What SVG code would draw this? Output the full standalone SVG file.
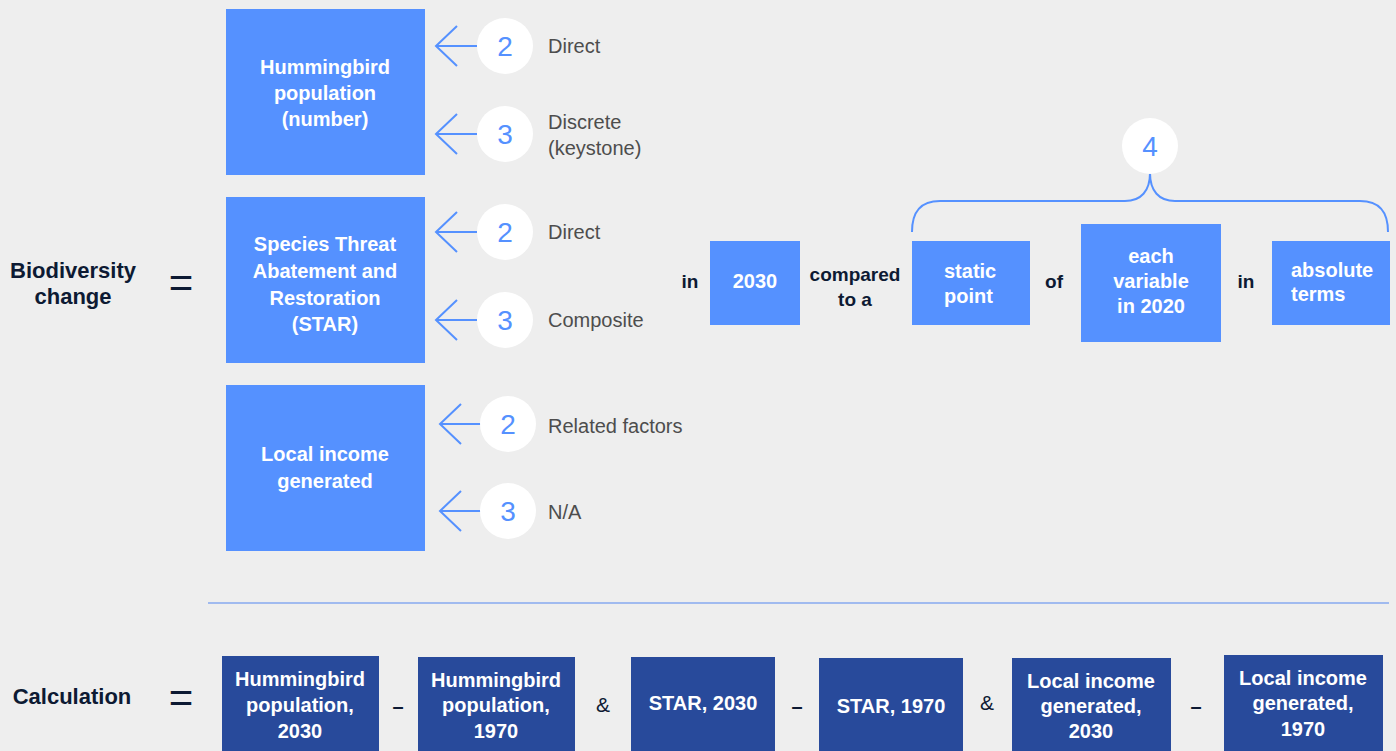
<svg xmlns="http://www.w3.org/2000/svg" width="1396" height="751" viewBox="0 0 1396 751">
<style>
.bg{fill:#eeeeee}
.lb{fill:#5591ff}
.db{fill:#284a9b}
.wt{font-family:"Liberation Sans",Arial,sans-serif;font-size:20px;font-weight:bold;fill:#ffffff;text-anchor:middle}
.wl{font-family:"Liberation Sans",Arial,sans-serif;font-size:20px;font-weight:bold;fill:#ffffff;text-anchor:start}
.nv{font-family:"Liberation Sans",Arial,sans-serif;font-weight:bold;fill:#0d1a33;text-anchor:middle}
.amp{font-family:"Liberation Sans",Arial,sans-serif;font-size:21px;font-weight:normal;fill:#0d1a33;text-anchor:middle}
.gy{font-family:"Liberation Sans",Arial,sans-serif;font-size:20px;fill:#4d4d4d}
.cc{fill:#ffffff}
.num{font-family:"Liberation Sans",Arial,sans-serif;font-size:28px;fill:#5591ff;text-anchor:middle}
.arr{fill:none;stroke:#5591ff;stroke-width:2}
.eq{font-family:"Liberation Sans",Arial,sans-serif;font-size:42px;fill:#0d1a33;text-anchor:middle}
</style>
<defs>
<path id="ar" d="M0,0 L41,0 M21,-20 L0,0 L21,20" class="arr"/>
</defs>
<rect class="bg" x="0" y="0" width="1396" height="751"/>

<g id="label-biodiversity">
<text class="nv" font-size="22" x="73" y="278">Biodiversity</text>
<text class="nv" font-size="22" x="73" y="304">change</text>
<text class="eq" x="181" y="297">=</text>
</g>

<g id="node-hummingbird">
<rect class="lb" x="226" y="9" width="199" height="166"/>
<text class="wt" x="325" y="74">Hummingbird</text>
<text class="wt" x="325" y="100">population</text>
<text class="wt" x="325" y="126">(number)</text>
</g>
<g id="node-star">
<rect class="lb" x="226" y="197" width="199" height="166"/>
<text class="wt" x="325" y="251">Species Threat</text>
<text class="wt" x="325" y="278">Abatement and</text>
<text class="wt" x="325" y="305">Restoration</text>
<text class="wt" x="325" y="331">(STAR)</text>
</g>
<g id="node-income">
<rect class="lb" x="226" y="385" width="199" height="166"/>
<text class="wt" x="325" y="461">Local income</text>
<text class="wt" x="325" y="488">generated</text>
</g>

<g id="connectors">
<use href="#ar" x="436" y="46"/>
<use href="#ar" x="436" y="134"/>
<use href="#ar" x="436" y="232"/>
<use href="#ar" x="436" y="320"/>
<use href="#ar" x="440" y="424"/>
<use href="#ar" x="440" y="511"/>
<path class="arr" stroke-width="1.5" d="M912,232 C912,212 920,201 940,201 L1125,201 C1141,201 1150,191 1150,173 C1150,191 1159,201 1175,201 L1360,201 C1380,201 1388,212 1388,232"/>
<line x1="208" y1="603" x2="1389" y2="603" stroke="#86a8ef" stroke-width="1.5"/>
</g>

<g id="badge-h2"><circle class="cc" cx="505" cy="46" r="28"/><text class="num" x="505" y="56">2</text></g>
<g id="badge-h3"><circle class="cc" cx="505" cy="134" r="28"/><text class="num" x="505" y="144">3</text></g>
<g id="badge-s2"><circle class="cc" cx="505" cy="232" r="28"/><text class="num" x="505" y="242">2</text></g>
<g id="badge-s3"><circle class="cc" cx="505" cy="320" r="28"/><text class="num" x="505" y="330">3</text></g>
<g id="badge-l2"><circle class="cc" cx="508" cy="424" r="28"/><text class="num" x="508" y="434">2</text></g>
<g id="badge-l3"><circle class="cc" cx="508" cy="511" r="28"/><text class="num" x="508" y="521">3</text></g>
<g id="badge-4"><circle class="cc" cx="1150" cy="146" r="28"/><text class="num" x="1150" y="156">4</text></g>

<g id="labels-grey">
<text class="gy" x="548" y="53">Direct</text>
<text class="gy" x="548" y="129">Discrete</text>
<text class="gy" x="548" y="155">(keystone)</text>
<text class="gy" x="548" y="239">Direct</text>
<text class="gy" x="548" y="327">Composite</text>
<text class="gy" x="548" y="433">Related factors</text>
<text class="gy" x="548" y="519">N/A</text>
</g>

<g id="sentence">
<text class="nv" font-size="19" x="690" y="288">in</text>
<text class="nv" font-size="19" x="855" y="281">compared</text>
<text class="nv" font-size="19" x="855" y="306">to a</text>
<text class="nv" font-size="19" x="1054" y="288">of</text>
<text class="nv" font-size="19" x="1246" y="288">in</text>
</g>
<g id="node-2030">
<rect class="lb" x="710" y="241" width="90" height="84"/>
<text class="wt" x="755" y="288">2030</text>
</g>
<g id="node-static">
<rect class="lb" x="912" y="241" width="118" height="84"/>
<text class="wl" x="944" y="278">static</text>
<text class="wl" x="944" y="303">point</text>
</g>
<g id="node-each">
<rect class="lb" x="1081" y="224" width="140" height="118"/>
<text class="wt" x="1151" y="263">each</text>
<text class="wt" x="1151" y="288">variable</text>
<text class="wt" x="1151" y="313">in 2020</text>
</g>
<g id="node-absolute">
<rect class="lb" x="1272" y="241" width="118" height="84"/>
<text class="wl" x="1291" y="277">absolute</text>
<text class="wl" x="1291" y="301">terms</text>
</g>

<g id="label-calculation">
<text class="nv" font-size="22" x="72" y="704">Calculation</text>
<text class="eq" x="181" y="712">=</text>
</g>
<g id="calc-1">
<rect class="db" x="222" y="656" width="157" height="95"/>
<text class="wt" x="300" y="686">Hummingbird</text>
<text class="wt" x="300" y="712">population,</text>
<text class="wt" x="300" y="738">2030</text>
</g>
<text class="nv" font-size="20" x="398" y="713">–</text>
<g id="calc-2">
<rect class="db" x="418" y="657" width="157" height="94"/>
<text class="wt" x="496" y="687">Hummingbird</text>
<text class="wt" x="496" y="712">population,</text>
<text class="wt" x="496" y="738">1970</text>
</g>
<text class="amp" x="603" y="712">&amp;</text>
<g id="calc-3">
<rect class="db" x="631" y="657" width="144" height="94"/>
<text class="wt" x="703" y="710">STAR, 2030</text>
</g>
<text class="nv" font-size="20" x="797" y="713">–</text>
<g id="calc-4">
<rect class="db" x="819" y="658" width="144" height="93"/>
<text class="wt" x="891" y="713">STAR, 1970</text>
</g>
<text class="amp" x="987" y="710">&amp;</text>
<g id="calc-5">
<rect class="db" x="1012" y="658" width="159" height="93"/>
<text class="wt" x="1091" y="688">Local income</text>
<text class="wt" x="1091" y="713">generated,</text>
<text class="wt" x="1091" y="738">2030</text>
</g>
<text class="nv" font-size="20" x="1196" y="713">–</text>
<g id="calc-6">
<rect class="db" x="1224" y="655" width="159" height="96"/>
<text class="wt" x="1303" y="685">Local income</text>
<text class="wt" x="1303" y="710">generated,</text>
<text class="wt" x="1303" y="736">1970</text>
</g>
</svg>
